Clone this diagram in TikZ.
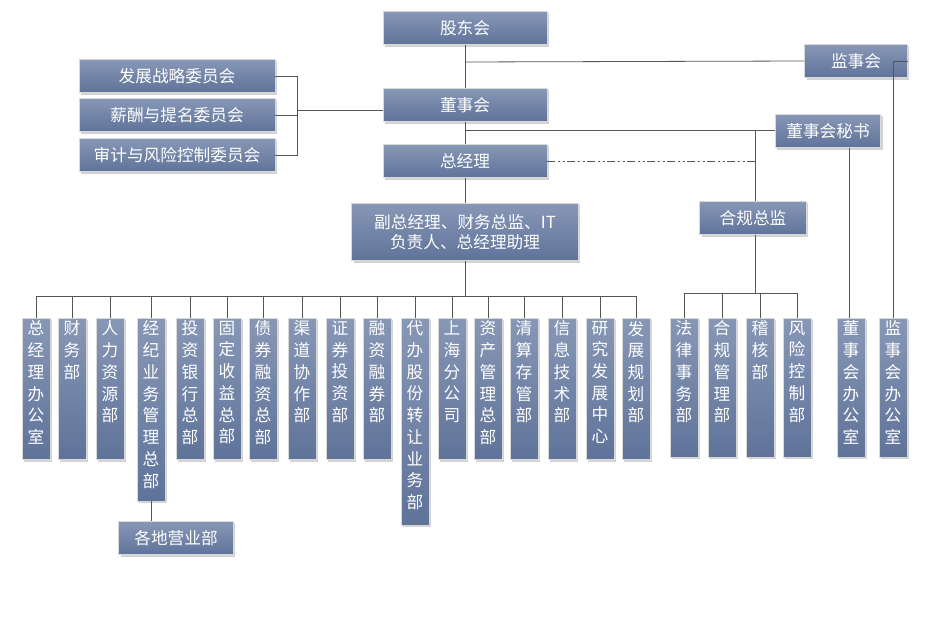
\documentclass[tikz,border=0pt]{standalone}
\usepackage{fontspec}
\setmainfont{Noto Sans CJK SC}
\usetikzlibrary{shadows}
\definecolor{boxtop}{HTML}{8797B6}
\definecolor{boxbot}{HTML}{5F7399}
\definecolor{linegray}{HTML}{555555}
\tikzset{
  org/.style={draw=white!70!gray, top color=boxtop, bottom color=boxbot, text=white,
    drop shadow={opacity=0.35,shadow xshift=1.5pt,shadow yshift=-1.5pt},
    inner sep=0pt, font=\fontsize{12.5}{15}\selectfont},
  vorg/.style={org, anchor=north, minimum width=21pt, align=center},
  link/.style={draw=linegray, line width=0.6pt}
}
\newcommand{\vtxt}[2]{\parbox[t][#1][t]{1.2em}{\centering\baselineskip=16.3pt\vspace*{2pt}#2}}
\begin{document}
\begin{tikzpicture}[x=0.75pt,y=-0.75pt]
\useasboundingbox (0,0) rectangle (939,638);
% top nodes
\node[org, minimum width=123pt, minimum height=25pt] (gd) at (465,28) {股东会};
\node[org, minimum width=77pt, minimum height=25pt] (jsh) at (856,61) {监事会};
\node[org, minimum width=123pt, minimum height=25pt] (dsh) at (465,105) {董事会};
\node[org, minimum width=147pt, minimum height=25pt] (c1) at (177,76) {发展战略委员会};
\node[org, minimum width=147pt, minimum height=25pt] (c2) at (177,115) {薪酬与提名委员会};
\node[org, minimum width=147pt, minimum height=25pt] (c3) at (177,155) {审计与风险控制委员会};
\node[org, minimum width=79pt, minimum height=25pt] (ms) at (828,131) {董事会秘书};
\node[org, minimum width=123pt, minimum height=25pt] (zjl) at (465,161) {总经理};
\node[org, minimum width=170pt, minimum height=43pt, align=center] (fz) at (465,232) {副总经理、财务总监、IT\\负责人、总经理助理};
\node[org, minimum width=80pt, minimum height=25pt] (hg) at (753,218) {合规总监};
% departments
\foreach \n/\x/\h/\t in {
  d1/36/106/总\\经\\理\\办\\公\\室, d2/72/106/财\\务\\部, d3/110/106/人\\力\\资\\源\\部,
  d4/151/137/经\\纪\\业\\务\\管\\理\\总\\部, d5/190/106/投\\资\\银\\行\\总\\部,
  d6/227/106/固\\定\\收\\益\\总\\部, d7/263/106/债\\券\\融\\资\\总\\部,
  d8/302/106/渠\\道\\协\\作\\部, d9/340/106/证\\券\\投\\资\\部,
  d10/377/106/融\\资\\融\\券\\部, d11/415/155/代\\办\\股\\份\\转\\让\\业\\务\\部,
  d12/452/106/上\\海\\分\\公\\司, d13/488/106/资\\产\\管\\理\\总\\部,
  d14/524/106/清\\算\\存\\管\\部, d15/562/106/信\\息\\技\\术\\部,
  d16/600/106/研\\究\\发\\展\\中\\心, d17/636/106/发\\展\\规\\划\\部}
  \node[vorg] (\n) at (\x,318) {\vtxt{\h pt}{\t}};
\foreach \n/\x/\t in {r1/684/法\\律\\事\\务\\部, r2/722/合\\规\\管\\理\\部, r3/760/稽\\核\\部, r4/797/风\\险\\控\\制\\部}
  \node[vorg] (\n) at (\x,318) {\vtxt{104pt}{\t}};
\node[vorg] (dban) at (851,318) {\vtxt{104pt}{董\\事\\会\\办\\公\\室}};
\node[vorg] (jban) at (893,318) {\vtxt{104pt}{监\\事\\会\\办\\公\\室}};
\node[org, minimum width=86pt, minimum height=25pt] (yyb) at (176,538) {各地营业部};
% connectors
\draw[link] (gd) -- (dsh);
\draw[link] (dsh) -- (zjl);
\draw[link] (zjl) -- (fz);
\draw[link] (465,62) -- (jsh.west);
\draw[link] (jsh) -| (jban.north);
\draw[link] (c1.east) -| (297,110);
\draw[link] (c3.east) -| (297,110);
\draw[link] (c2.east) -- (297,115) (297,110) -- (dsh.west |- 0,110);
\draw[link] (465,130) -- (ms.west |- 0,130);
\draw[link] (755,130) -- (hg.north -| 755,0);
\draw[link] (849,148) -- (dban.north -| 849,0);
\draw[link, dash pattern=on 6pt off 2pt on 1.5pt off 2pt on 1.5pt off 2pt] (zjl.east) -- (755,161);
\draw[link] (hg.south -| 755,0) -- (755,293);
\draw[link] (r1.north) |- (r4.north |- 0,293) -- (r4.north);
\foreach \n in {r2,r3} \draw[link] (\n.north |- 0,293) -- (\n.north);
\draw[link] (fz) -- (465,296);
\draw[link] (d1.north) |- (d17.north |- 0,296) -- (d17.north);
\foreach \n in {d2,d3,d4,d5,d6,d7,d8,d9,d10,d11,d12,d13,d14,d15,d16}
  \draw[link] (\n.north |- 0,296) -- (\n.north);
\draw[link] (d4.south) -- (yyb.north -| d4.south);
\end{tikzpicture}
\end{document}
